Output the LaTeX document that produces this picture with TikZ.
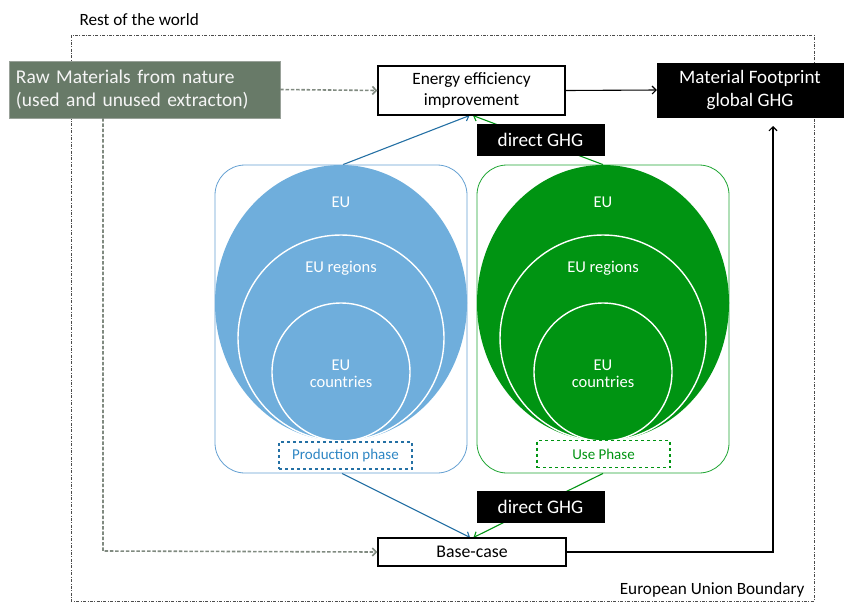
\documentclass[tikz,border=0pt]{standalone}
\usepackage{fontspec}
\setmainfont{Carlito}
\usetikzlibrary{arrows.meta,calc}
\pgfdeclarelayer{bg}
\pgfsetlayers{bg,main}
\definecolor{rawfill}{RGB}{104,122,104}
\definecolor{dgray}{RGB}{128,138,128}
\definecolor{bluefill}{RGB}{111,174,220}
\definecolor{bluedark}{RGB}{36,112,164}
\definecolor{bluelight}{RGB}{100,160,210}
\definecolor{bluetext}{RGB}{46,134,196}
\definecolor{greenfill}{RGB}{0,148,18}
\definecolor{greenline}{RGB}{30,165,50}
\tikzset{
  fs/.style={font=\fontsize{#1}{\dimexpr #1pt*6/5\relax}\selectfont},
  whitebox/.style={draw=black,line width=1.1pt,fill=white,inner sep=0pt,align=center},
  blackbox/.style={draw=black,fill=black,text=white,inner sep=0pt,align=center},
  container/.style={rounded corners=30pt,line width=0.8pt},
  phasebox/.style={dashed,line width=1.1pt,inner sep=0pt,fill=white},
  arr/.style={line width=1.1pt,-{Straight Barb[length=4pt,width=8pt]}},
  garr/.style={dash pattern=on 3.5pt off 1.8pt,line width=1.6pt,dgray,-{Straight Barb[length=4pt,width=8pt]}},
  bubtext/.style={text=white,fs=16.5,align=center},
  ring/.style={draw=white,line width=1.4pt}
}
\begin{document}
\begin{tikzpicture}[x=1pt,y=-1pt]
\useasboundingbox (0,0) rectangle (845,603);
% outer boundary
\draw[line width=0.7pt,black!70,dash pattern=on 3pt off 1.5pt on 0.8pt off 1.5pt] (71,35) rectangle (814,601);
\node[fs=17.2,anchor=west] (row) at (76,20) {Rest of the world};
\node[fs=17.2,anchor=east] (eub) at (808,590) {European Union Boundary};

% containers
\node[container,draw=bluelight,minimum width=252pt,minimum height=308pt] (prodc) at (341,319) {};
\node[container,draw=greenline,minimum width=252pt,minimum height=308pt] (usec) at (603,319) {};

% blue bubbles
\fill[bluefill] (341,303) ellipse [x radius=126, y radius=138];
\draw[ring] (341,338) circle [radius=103];
\draw[ring] (341,372) circle [radius=69];
\node[bubtext] (beu) at (341,202) {EU};
\node[bubtext] (breg) at (341,268) {EU regions};
\node[bubtext] (bcty) at (341,374) {EU\\[-3pt]countries};
% green bubbles
\fill[greenfill] (603,303) ellipse [x radius=126, y radius=138];
\draw[ring] (603,338) circle [radius=103];
\draw[ring] (603,372) circle [radius=69];
\node[bubtext] (geu) at (603,202) {EU};
\node[bubtext] (greg) at (603,268) {EU regions};
\node[bubtext] (gcty) at (603,374) {EU\\[-3pt]countries};

\node[phasebox,draw=bluedark,text=bluetext,fs=15,minimum width=133pt,minimum height=27pt] (prodp) at (345.5,455.5) {Production phase};
\node[phasebox,draw=greenfill,text=greenfill,fs=15,minimum width=133pt,minimum height=27pt] (usep) at (603.5,454) {Use Phase};

% main boxes
\node[draw=dgray!80,fill=rawfill,text=white!92!gray,fs=19.5,align=left,minimum width=271pt,minimum height=57pt,text width=257pt,inner sep=0pt] (raw) at (144.5,89.5) {Raw Materials from nature\\(used and unused extracton)};
\node[whitebox,fs=17.3,minimum width=187pt,minimum height=49pt] (energy) at (471.5,90.5) {Energy efficiency\\improvement};
\node[blackbox,fs=19,minimum width=186pt,minimum height=54pt] (mat) at (750,90) {Material Footprint\\global GHG};
\node[blackbox,fs=19.2,minimum width=127pt,minimum height=31pt] (ghg1) at (540.5,139.5) {direct GHG};
\node[blackbox,fs=19.2,minimum width=127pt,minimum height=31pt] (ghg2) at (540.5,506.5) {direct GHG};
\node[whitebox,fs=17.8,minimum width=188pt,minimum height=28pt] (base) at (472,552) {Base-case};

% connector points
\coordinate (etgtb) at ($(energy.south)+(-2,0)$);
\coordinate (etgtg) at ($(energy.south)+(1.5,0)$);
\coordinate (btgtb) at ($(base.north)+(-2,0)$);
\coordinate (btgtg) at ($(base.north)+(1.5,0)$);
\coordinate (rawdown) at (103,118);
\coordinate (rawcorner) at (103,551);
\coordinate (rcorner) at (773,552);
\coordinate (mattip) at (773,126);

\begin{pgfonlayer}{bg}
\draw[arr,bluedark] ($(prodc.north)+(2,0)$) -- (etgtb);
\draw[arr,greenfill] (usec.north) -- (etgtg);
\draw[arr,bluedark] ($(prodc.south)+(1,0)$) -- (btgtb);
\draw[arr,greenfill] (usec.south) -- (btgtg);
\end{pgfonlayer}

\draw[garr] (raw.east) -- (energy.west);
\draw[garr] (rawdown) -- (rawcorner) -- (base.west);
\draw[arr,black] (energy.east) -- (mat.west);
\draw[arr,black] (base.east) -- (rcorner) -- (mattip);
\end{tikzpicture}
\end{document}
